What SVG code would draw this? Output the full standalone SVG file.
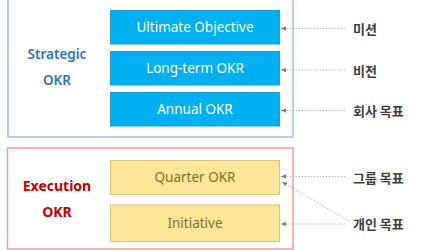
<svg xmlns="http://www.w3.org/2000/svg" width="443" height="250" viewBox="0 0 443 250">
<defs>
<style>
.frameS{fill:#fff;stroke:#9dc3e6;stroke-width:1.5}
.frameE{fill:#fff;stroke:#f19c9c;stroke-width:1.5}
.blue{fill:#00b0f0;stroke:#1e9fd0;stroke-width:1}
.yel{fill:#ffe699;stroke:#d6c47a;stroke-width:1}
.bt{font-family:"Noto Sans","DejaVu Sans",sans-serif;font-size:13.5px;fill:#fff;text-anchor:middle;dominant-baseline:central}
.yt{font-family:"Noto Sans","DejaVu Sans",sans-serif;font-size:13.5px;fill:#85702a;text-anchor:middle;dominant-baseline:central}
.st{font-family:"Noto Sans","DejaVu Sans",sans-serif;font-size:13.5px;font-weight:600;fill:#2e75b6;text-anchor:middle;dominant-baseline:central}
.et{font-family:"Noto Sans","DejaVu Sans",sans-serif;font-size:14px;font-weight:bold;fill:#c00000;text-anchor:middle;dominant-baseline:central}
.kt{font-family:"Noto Sans CJK KR",sans-serif;font-size:13px;font-weight:bold;fill:#404040;dominant-baseline:central}
.con{fill:none;stroke:#a6a6a6;stroke-width:0.8;stroke-dasharray:1.5 1.5;marker-end:url(#ah)}
</style>
<marker id="ah" markerWidth="6" markerHeight="6" refX="5" refY="3" orient="auto" markerUnits="userSpaceOnUse">
<path d="M0,0.8 L5,3 L0,5.2 Z" fill="#7f7f7f"/>
</marker>
</defs>
<g id="strategic-frame">
<rect class="frameS" x="8" y="-1" width="285" height="138"/>
<text class="st" x="57" y="54">Strategic</text>
<text class="st" x="57" y="80">OKR</text>
</g>
<g id="execution-frame">
<rect class="frameE" x="7.5" y="148" width="285.5" height="101"/>
<text class="et" x="57" y="185">Execution</text>
<text class="et" x="57" y="211">OKR</text>
</g>
<g id="ultimate-objective">
<rect class="blue" x="110.5" y="10.5" width="169" height="33.5"/>
<text class="bt" x="195" y="27">Ultimate Objective</text>
</g>
<g id="long-term-okr">
<rect class="blue" x="110.5" y="51.5" width="169" height="33.5"/>
<text class="bt" x="195" y="68">Long-term OKR</text>
</g>
<g id="annual-okr">
<rect class="blue" x="110.5" y="92.5" width="169" height="33.5"/>
<text class="bt" x="195" y="109">Annual OKR</text>
</g>
<g id="quarter-okr">
<rect class="yel" x="110.5" y="160.5" width="169" height="34"/>
<text class="yt" x="195" y="177">Quarter OKR</text>
</g>
<g id="initiative">
<rect class="yel" x="110.5" y="205" width="169" height="36.5"/>
<text class="yt" x="195" y="223">Initiative</text>
</g>
<g id="label-mission"><text class="kt" x="353" y="28">미션</text></g>
<g id="label-vision"><text class="kt" x="353" y="70">비전</text></g>
<g id="label-company"><text class="kt" x="353" y="110">회사 목표</text></g>
<g id="label-group"><text class="kt" x="353" y="177">그룹 목표</text></g>
<g id="label-personal"><text class="kt" x="353" y="223">개인 목표</text></g>
<g id="connectors">
<line class="con" x1="345" y1="28.5" x2="281" y2="28.5"/>
<line class="con" x1="345" y1="70" x2="281" y2="70"/>
<line class="con" x1="345" y1="110.5" x2="281" y2="110.5"/>
<line class="con" x1="345" y1="176.5" x2="281" y2="176.5"/>
<line class="con" x1="349" y1="221" x2="282" y2="182"/>
<line class="con" x1="345" y1="224" x2="281" y2="224"/>
</g>
</svg>
